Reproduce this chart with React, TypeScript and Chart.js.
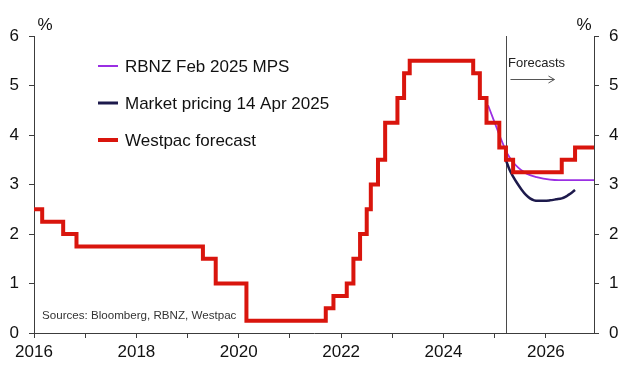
import { useEffect, useRef } from 'react';
import { Chart, registerables } from 'chart.js';

Chart.register(...registerables);

// ---- Data (years as decimal fractions, rates in %) ----
const westpacDates = [
  2016.0, 2016.16, 2016.57, 2016.83, 2019.3, 2019.55, 2020.15, 2021.7, 2021.85,
  2022.11, 2022.24, 2022.37, 2022.5, 2022.58, 2022.72, 2022.86, 2023.1, 2023.23,
  2023.34, 2024.58, 2024.71, 2024.84, 2025.09, 2025.22, 2025.36, 2026.31, 2026.57,
  2026.94,
];
const westpacRates = [
  2.5, 2.25, 2.0, 1.75, 1.5, 1.0, 0.25, 0.5, 0.75,
  1.0, 1.5, 2.0, 2.5, 3.0, 3.5, 4.25, 4.75, 5.25,
  5.5, 5.25, 4.75, 4.25, 3.75, 3.5, 3.25, 3.5, 3.75,
  3.75,
];

const rbnzDates = [
  2024.87, 2025.0, 2025.13, 2025.25, 2025.36, 2025.46, 2025.56, 2025.69, 2025.82,
  2025.95, 2026.08, 2026.25, 2026.5, 2026.75, 2026.94,
];
const rbnzRates = [
  4.6, 4.25, 3.9, 3.62, 3.45, 3.34, 3.26, 3.19, 3.15,
  3.12, 3.1, 3.09, 3.09, 3.09, 3.09,
];

const marketDates = [
  2025.22, 2025.29, 2025.36, 2025.45, 2025.53, 2025.61, 2025.69, 2025.77, 2025.85,
  2025.97, 2026.08, 2026.2, 2026.31, 2026.38, 2026.44, 2026.51, 2026.57,
];
const marketRates = [
  3.49, 3.3, 3.16, 3.01, 2.89, 2.79, 2.72, 2.68, 2.67,
  2.67, 2.68, 2.7, 2.72, 2.75, 2.79, 2.84, 2.89,
];

const seriesLabels = ['RBNZ Feb 2025 MPS', 'Market pricing 14 Apr 2025', 'Westpac forecast'];
const xTickLabels = ['2016', '2018', '2020', '2022', '2024', '2026'];
const yTickValues = [0, 1, 2, 3, 4, 5, 6];
const forecastStart = 2025.23;
const xMin = 2016;
const xMax = 2026.94;

const FONT = '"Liberation Sans", Arial, Helvetica, sans-serif';
const RED = '#d9150d';
const PURPLE = '#9a2fe3';
const NAVY = '#1d1a4c';
const AXIS = '#3c3c3c';
const TEXT = '#111111';

const toPoints = (xs: number[], ys: number[]) => xs.map((x, i) => ({ x, y: ys[i] }));

export default function App() {
  const ref = useRef<HTMLCanvasElement>(null);

  useEffect(() => {
    document.body.style.margin = '0';
    const canvas = ref.current;
    if (!canvas) return;

    const annotations = {
      id: 'annotations',
      beforeDatasetsDraw(chart: any) {
        const { ctx, chartArea, scales } = chart;
        const x = Math.round(scales.x.getPixelForValue(forecastStart)) + 0.5;
        ctx.save();
        ctx.strokeStyle = '#4a4a4a';
        ctx.lineWidth = 1;
        ctx.beginPath();
        ctx.moveTo(x, chartArea.top);
        ctx.lineTo(x, chartArea.bottom);
        ctx.stroke();
        ctx.restore();
      },
      afterDraw(chart: any) {
        const { ctx, chartArea, scales } = chart;
        const fx = scales.x.getPixelForValue(forecastStart);
        ctx.save();
        // "Forecasts" label and arrow
        ctx.fillStyle = '#222';
        ctx.font = `13px ${FONT}`;
        ctx.textBaseline = 'middle';
        ctx.textAlign = 'left';
        ctx.fillText('Forecasts', fx + 1.5, 63);
        ctx.strokeStyle = '#555';
        ctx.lineWidth = 1;
        ctx.beginPath();
        ctx.moveTo(fx + 4, 79.5);
        ctx.lineTo(fx + 48, 79.5);
        ctx.moveTo(fx + 42, 76);
        ctx.lineTo(fx + 48, 79.5);
        ctx.lineTo(fx + 42, 83);
        ctx.stroke();

        // Legend
        const colors = [PURPLE, NAVY, RED];
        const widths = [2, 3, 4];
        const rows = [66, 103, 140];
        seriesLabels.forEach((label, i) => {
          ctx.strokeStyle = colors[i];
          ctx.lineWidth = widths[i];
          ctx.lineCap = 'butt';
          ctx.beginPath();
          ctx.moveTo(98, rows[i]);
          ctx.lineTo(118, rows[i]);
          ctx.stroke();
          ctx.fillStyle = TEXT;
          ctx.font = `17px ${FONT}`;
          ctx.textAlign = 'left';
          ctx.textBaseline = 'middle';
          ctx.fillText(label, 125, rows[i] + 1);
        });

        // Sources
        ctx.fillStyle = '#333';
        ctx.font = `11.6px ${FONT}`;
        ctx.textAlign = 'left';
        ctx.textBaseline = 'middle';
        ctx.fillText('Sources: Bloomberg, RBNZ, Westpac', 42, 316);

        // % labels
        ctx.fillStyle = TEXT;
        ctx.font = `17px ${FONT}`;
        ctx.textAlign = 'center';
        ctx.fillText('%', chartArea.left + 11, 25);
        ctx.fillText('%', chartArea.right - 10, 25);
        ctx.restore();
      },
    };

    const yAxis = (position: 'left' | 'right', width: number) => ({
      type: 'linear' as const,
      position,
      min: 0,
      max: 6,
      afterFit: (s: any) => {
        s.width = width;
      },
      afterBuildTicks: (s: any) => {
        s.ticks = yTickValues.map((v) => ({ value: v }));
      },
      ticks: {
        stepSize: 1,
        padding: 10,
        color: TEXT,
        font: { family: FONT, size: 17 },
      },
      grid: { drawOnChartArea: false, drawTicks: true, tickLength: 5, color: AXIS, lineWidth: 1 },
      border: { display: true, color: AXIS, width: 1 },
    });

    const chart = new Chart(canvas, {
      type: 'line',
      data: {
        datasets: [
          {
            label: seriesLabels[2],
            data: toPoints(westpacDates, westpacRates),
            borderColor: RED,
            borderWidth: 4,
            stepped: true,
            pointRadius: 0,
            borderJoinStyle: 'miter',
            borderCapStyle: 'butt',
            fill: false,
          },
          {
            label: seriesLabels[1],
            data: toPoints(marketDates, marketRates),
            borderColor: NAVY,
            borderWidth: 2.5,
            cubicInterpolationMode: 'monotone',
            pointRadius: 0,
            fill: false,
          },
          {
            label: seriesLabels[0],
            data: toPoints(rbnzDates, rbnzRates),
            borderColor: PURPLE,
            borderWidth: 1.8,
            cubicInterpolationMode: 'monotone',
            pointRadius: 0,
            fill: false,
          },
        ],
      },
      options: {
        responsive: false,
        animation: false,
        devicePixelRatio: 1,
        layout: { padding: { top: 36, left: 0, right: 0, bottom: 0 } },
        plugins: { legend: { display: false }, tooltip: { enabled: false } },
        scales: {
          x: {
            type: 'linear',
            min: xMin,
            max: xMax,
            afterFit: (s: any) => {
              s.height = 44;
            },
            ticks: {
              stepSize: 1,
              includeBounds: false,
              autoSkip: false,
              maxRotation: 0,
              minRotation: 0,
              padding: 4,
              color: TEXT,
              font: { family: FONT, size: 17 },
              callback: (value: any) => {
                const v = String(Math.round(Number(value)));
                return xTickLabels.includes(v) ? v : '';
              },
            },
            grid: { drawOnChartArea: false, drawTicks: true, tickLength: 5, color: AXIS, lineWidth: 1 },
            border: { display: true, color: AXIS, width: 1 },
          },
          y: yAxis('left', 34),
          y2: yAxis('right', 42),
        },
      },
      plugins: [annotations],
    } as any);

    return () => chart.destroy();
  }, []);

  return (
    <canvas
      ref={ref}
      width={636}
      height={377}
      style={{ display: 'block', width: 636, height: 377 }}
    />
  );
}
